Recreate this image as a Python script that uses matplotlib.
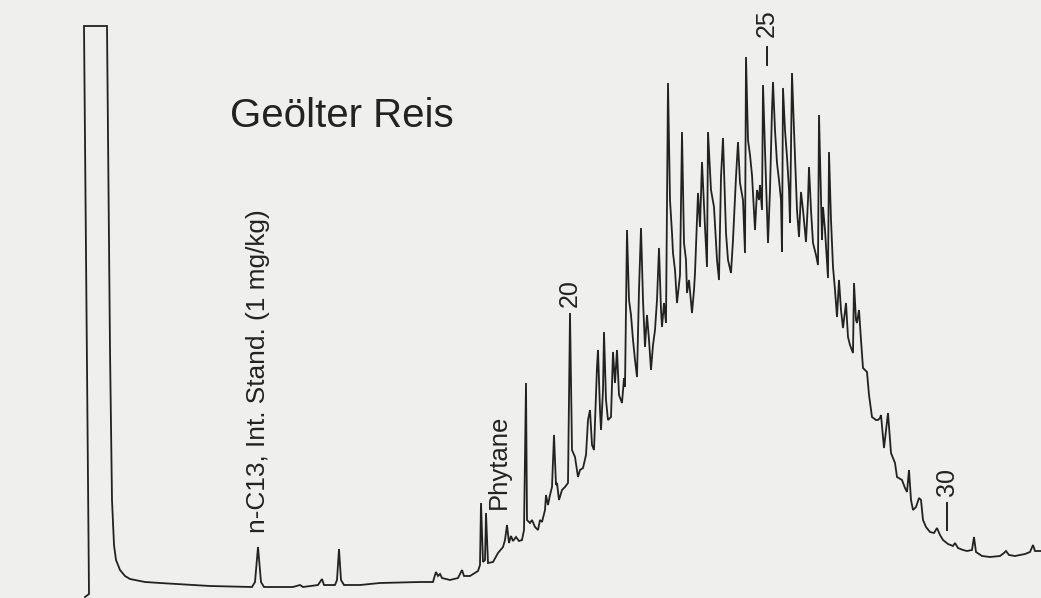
import matplotlib
matplotlib.use("Agg")
import matplotlib.pyplot as plt

# Chromatogram trace: retention position and detector response
rt = [85, 89, 84, 107, 110, 112, 114, 116, 120, 125, 130, 145, 160, 210, 252, 255, 258, 261, 264,
      293, 300, 303, 318, 322, 324, 335, 337, 339, 341, 344, 360, 380, 420, 433, 435, 436, 438, 440,
      442, 450, 458, 462, 464, 470, 478, 480, 481, 483, 485, 486, 488, 493, 498, 503, 505, 507, 509,
      511, 513, 516, 519, 522, 524, 526, 527, 530, 532, 535, 538, 540, 542, 545, 546, 548, 550, 552,
      554, 556, 557, 559, 562, 565, 568, 570, 572, 575, 578, 580, 583, 586, 588, 590, 592, 594, 597,
      598, 600, 601, 603, 604, 606, 608, 611, 613, 615, 617, 619, 622, 624, 625, 627, 629, 631, 633,
      635, 637, 639, 641, 643, 645, 647, 649, 651, 653, 655, 657, 659, 661, 662, 664, 666, 668, 670,
      672, 673, 675, 677, 679, 680, 682, 684, 686, 687, 689, 692, 694, 695, 697, 698, 700, 702, 705,
      707, 708, 710, 711, 714, 717, 719, 721, 723, 726, 728, 731, 733, 736, 738, 740, 743, 745, 746,
      748, 750, 752, 755, 757, 759, 760, 762, 763, 765, 768, 770, 772, 773, 775, 777, 779, 781, 782,
      783, 785, 787, 789, 790, 792, 794, 797, 799, 801, 803, 806, 808, 809, 811, 813, 816, 818, 819,
      821, 822, 823, 825, 828, 829, 831, 833, 835, 837, 839, 841, 843, 846, 848, 850, 853, 854, 856,
      857, 859, 861, 863, 867, 869, 872, 876, 878, 880, 881, 884, 888, 891, 895, 897, 902, 905, 907,
      909, 911, 913, 916, 919, 921, 923, 926, 930, 934, 937, 940, 943, 948, 953, 955, 958, 963, 967,
      972, 974, 976, 982, 990, 1000, 1004, 1006, 1009, 1015, 1025, 1030, 1033, 1035, 1041]

ypix = [597, 594, 26, 26, 350, 500, 545, 560, 570, 576, 579, 582, 583, 586, 587, 582, 547, 582, 587,
        587, 585, 587, 585, 579, 585, 585, 580, 549, 580, 585, 585, 583, 582, 582, 575, 572, 576, 574,
        578, 580, 578, 570, 576, 576, 571, 565, 503, 562, 560, 513, 563, 562, 553, 547, 540, 525, 543,
        536, 541, 537, 541, 540, 530, 383, 520, 523, 520, 527, 530, 520, 522, 510, 495, 505, 495, 487,
        435, 485, 483, 500, 490, 487, 483, 313, 450, 457, 477, 470, 468, 455, 420, 410, 445, 450, 367,
        350, 410, 430, 390, 332, 400, 420, 417, 352, 383, 350, 395, 403, 378, 387, 230, 300, 315, 340,
        360, 377, 290, 228, 300, 347, 315, 340, 370, 345, 330, 300, 248, 310, 327, 303, 323, 83, 200,
        233, 253, 270, 303, 285, 275, 132, 243, 260, 293, 280, 313, 290, 273, 220, 193, 227, 162, 227,
        267, 132, 170, 190, 207, 260, 280, 177, 138, 233, 260, 273, 240, 177, 142, 183, 200, 253, 57,
        140, 155, 175, 230, 190, 200, 185, 210, 85, 150, 243, 190, 110, 82, 130, 163, 180, 200, 252,
        88, 130, 157, 190, 223, 73, 130, 210, 237, 192, 210, 242, 200, 167, 210, 243, 255, 265, 115,
        200, 240, 207, 230, 278, 152, 220, 267, 290, 317, 280, 310, 328, 303, 337, 345, 353, 283, 320,
        323, 310, 340, 368, 372, 395, 417, 420, 420, 418, 415, 448, 413, 453, 463, 477, 480, 488, 492,
        470, 500, 510, 507, 498, 500, 520, 527, 532, 533, 528, 535, 540, 544, 546, 543, 548, 550, 551,
        550, 537, 552, 556, 557, 556, 553, 551, 555, 556, 554, 552, 545, 551, 551]

H = 598
response = [H - v for v in ypix]

title = "Geölter Reis"
label_istd = "n-C13, Int. Stand. (1 mg/kg)"
label_phytane = "Phytane"
carbon_labels = ["20", "25", "30"]
carbon_rt = [570, 767, 947]

plt.rcParams['font.family'] = ['Liberation Sans', 'DejaVu Sans']

fig = plt.figure(figsize=(10.41, 5.98), dpi=100)
bg = '#efefed'
fig.patch.set_facecolor(bg)
ax = fig.add_axes([0, 0, 1, 1])
ax.set_facecolor(bg)
ax.set_xlim(0, 1041)
ax.set_ylim(0, H)
ax.axis('off')

ink = '#222222'
ax.plot(rt, response, color=ink, lw=1.3, solid_joinstyle='miter')

ax.text(230, H - 116, title, fontsize=29, color=ink, ha='left', va='center')
ax.text(258, H - 371, label_istd, fontsize=18.9, color=ink, rotation=90,
        ha='center', va='center')
ax.text(499, H - 462, label_phytane, fontsize=18.5, color=ink, rotation=90,
        ha='center', va='center')

# carbon number labels; 25 and 30 have marker ticks
lab_y = [H - 293, H - 23, H - 482]
for lab, x, y in zip(carbon_labels, carbon_rt, lab_y):
    ax.text(x, y, lab, fontsize=18, color=ink, rotation=90, ha='center', va='center')
ax.plot([767, 767], [H - 47, H - 65], color=ink, lw=1.4)
ax.plot([947, 947], [H - 503, H - 530], color=ink, lw=1.4)

fig.savefig('out.png', dpi=100, facecolor=bg)
